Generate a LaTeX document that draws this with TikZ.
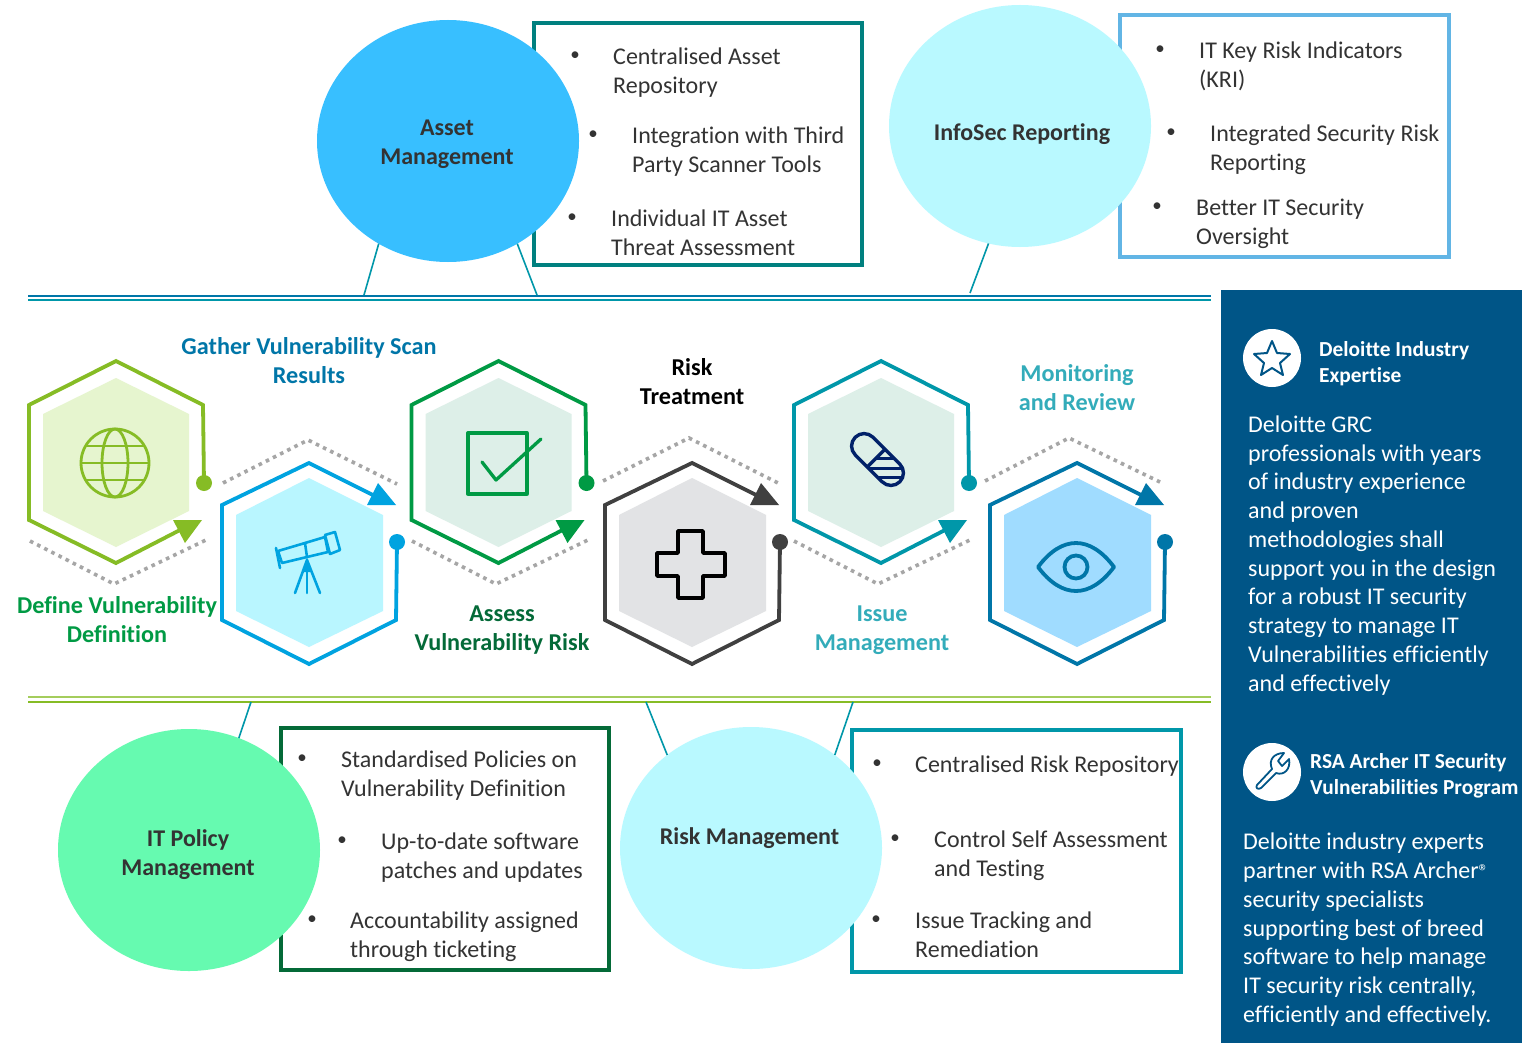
\documentclass[tikz,border=0pt]{standalone}
\usepackage{fontspec}
\setmainfont{Carlito}[Ligatures=NoCommon]
\usetikzlibrary{shapes.geometric}
\definecolor{panel}{HTML}{005587}
\definecolor{cA}{HTML}{86BC25}\definecolor{fA}{HTML}{E6F5CF}
\definecolor{cB}{HTML}{00A3E0}\definecolor{fB}{HTML}{B9F6FF}
\definecolor{cC}{HTML}{009A44}\definecolor{fC}{HTML}{DDEFE8}
\definecolor{cD}{HTML}{404040}\definecolor{fD}{HTML}{E2E3E5}
\definecolor{cE}{HTML}{0097A9}
\definecolor{cF}{HTML}{0076A8}\definecolor{fF}{HTML}{A0DCFF}
\definecolor{circA}{HTML}{38BFFF}\definecolor{circB}{HTML}{B9F9FF}\definecolor{circC}{HTML}{66FAB0}
\definecolor{boxA}{HTML}{00807F}\definecolor{boxB}{HTML}{62B5E5}\definecolor{boxC}{HTML}{046A38}
\definecolor{txt}{HTML}{333333}\definecolor{dots}{HTML}{A6A6A6}
\definecolor{navy}{HTML}{012169}
\tikzset{x=1pt,y=-1pt,
 blobshape/.style={ellipse,minimum width=262pt,minimum height=242pt,inner sep=0,outer sep=0},
 panelbox/.style={line width=3.5pt,minimum height=242pt,inner sep=0},
 blob/.style={font=\fontsize{24}{29}\selectfont\bfseries,text=txt,align=center,inner sep=0},
 item/.style={font=\fontsize{24}{29}\selectfont,text=txt,align=left,anchor=north west,inner sep=0,yshift=-5pt},
 bul/.style={font=\fontsize{19}{29}\selectfont,text=txt,inner sep=0},
 lab/.style={font=\fontsize{24.2}{29}\selectfont\bfseries,align=center,inner sep=0},
 side/.style={font=\fontsize{24}{28.75}\selectfont,text=white,align=left,anchor=north west,inner sep=0,yshift=-5pt},
 sideh/.style={font=\fontsize{21.4}{26}\selectfont\bfseries,text=white,align=left,anchor=north west,inner sep=0,yshift=-5pt},
 dotline/.style={draw=dots,line width=3.6pt,dash pattern=on 3.6pt off 4.4pt},
 conn/.style={draw=cE,line width=1.6pt},
 hexline/.style={line width=3.8pt,miter limit=10},
 rulea/.style={line width=1.7pt},
}
\begin{document}
\begin{tikzpicture}
\useasboundingbox (0,0) rectangle (1522,1043);
\fill[white] (0,0) rectangle (1522,1043);
\fill[panel] (1221,290) rectangle (1522,1043);

% rules
\draw[cF,rulea] (28,296)--(1211,296);
\draw[cE,rulea] (28,300)--(1211,300);
\draw[cA!75!white,rulea] (28,697)--(1211,697);
\draw[cA,rulea] (28,702)--(1211,702);

% boxes
\node[draw=boxA,panelbox,minimum width=328pt] (boxasset) at (698,144) {};
\node[draw=boxB,panelbox,minimum width=329pt] (boxinfo) at (1284.5,136) {};
\node[draw=boxC,panelbox,minimum width=328pt] (boxpol) at (445,849) {};
\node[draw=cE,panelbox,minimum width=329pt] (boxrisk) at (1016.5,851) {};

% ellipses
\node[blobshape,fill=circA] (asset) at (448,141) {};
\node[blobshape,fill=circB] (infosec) at (1020,126) {};
\node[blobshape,fill=circC] (policy) at (189,850) {};
\node[blobshape,fill=circB] (riskm) at (751,848) {};
\node[blob] (n1) at (447,144) {Asset\\Management};
\node[blob] (n2) at (1022,134) {InfoSec Reporting};
\node[blob] (n3) at (188,854.5) {IT Policy\\Management};
\node[blob] (n4) at (749.5,838.5) {Risk Management};

% connectors
\coordinate (t1) at (364,295);\coordinate (t2) at (537,295);\coordinate (t3) at (970,293);
\coordinate (b1) at (251,702);\coordinate (b2) at (646,702);\coordinate (b3) at (853,702);
\draw[conn] (asset.236.7)--(t1);\draw[conn] (asset.304)--(t2);\draw[conn] (infosec.255.3)--(t3);
\draw[conn] (policy.66.9)--(b1);\draw[conn] (riskm.132.7)--(b2);\draw[conn] (riskm.48.3)--(b3);

% box texts
\node[bul] (u1) at (575,56) {•};
\node[item] (i1) at (613,43) {Centralised Asset\\Repository};
\node[bul] (u2) at (593,135) {•};
\node[item] (i2) at (632,122) {Integration with Third\\Party Scanner Tools};
\node[bul] (u3) at (572,218) {•};
\node[item] (i3) at (611,205) {Individual IT Asset\\Threat Assessment};

\node[bul] (u4) at (1160,50) {•};
\node[item] (i4) at (1199,37) {IT Key Risk Indicators\\(KRI)};
\node[bul] (u5) at (1171,133) {•};
\node[item] (i5) at (1210,120) {Integrated Security Risk\\Reporting};
\node[bul] (u6) at (1157,207) {•};
\node[item] (i6) at (1196,194) {Better IT Security\\Oversight};

\node[bul] (u7) at (302,759) {•};
\node[item] (i7) at (341,746) {Standardised Policies on\\Vulnerability Definition};
\node[bul] (u8) at (342,841) {•};
\node[item] (i8) at (381,828) {Up-to-date software\\patches and updates};
\node[bul] (u9) at (312,920) {•};
\node[item] (i9) at (350,907) {Accountability assigned\\through ticketing};

\node[bul] (u10) at (877,764) {•};
\node[item] (i10) at (915,751) {Centralised Risk Repository};
\node[bul] (u11) at (895,839) {•};
\node[item] (i11) at (934,826) {Control Self Assessment\\and Testing};
\node[bul] (u12) at (876,920) {•};
\node[item] (i12) at (915,907) {Issue Tracking and\\Remediation};

% dotted chevrons
\draw[dotline] (30,541)--(114,584)--(206,540);
\draw[dotline] (223,483)--(308,440)--(397,484);
\draw[dotline] (412,541)--(496,584)--(588,540);
\draw[dotline] (603,481)--(689,438)--(778,483);
\draw[dotline] (794,541)--(878,584)--(970,540);
\draw[dotline] (985,481)--(1069,438)--(1160,482);

% hexagons with the arrow at the lower right
\foreach \dx/\c/\f in {116/cA/fA,498.5/cC/fC,881/cE/fC}{
 \begin{scope}[shift={(\dx,0)}]
 \fill[\f] (0,378)--(73,414)--(73,511)--(0,547)--(-73,511)--(-73,414)--cycle;
 \draw[\c,hexline] (88,483)--(87,405)--(0,361)--(-87,405)--(-87,520)--(0,563)--(66,529);
 \fill[\c] (88,483) circle (8);
 \fill[\c] (57,520)--(86,520)--(69,543)--cycle;
 \end{scope}}
% hexagons with the arrow at the upper right
\foreach \dx/\c/\f in {309/cB/fB,692/cD/fD,1077/cF/fF}{
 \begin{scope}[shift={(\dx,0)}]
 \fill[\f] (0,478)--(74,515)--(74,611)--(0,647)--(-73,611)--(-73,515)--cycle;
 \draw[\c,hexline] (88,542)--(87,620)--(0,664)--(-87,620)--(-87,505)--(0,463)--(68,497);
 \fill[\c] (88,542) circle (8);
 \fill[\c] (69,483)--(87,505)--(58,505)--cycle;
 \end{scope}}

% globe
\begin{scope}[shift={(115,463)},draw=cA,line width=2.8pt]
 \draw (0,0) circle (34);
 \draw (0,0) ellipse [x radius=13,y radius=34];
 \draw (-34,0)--(34,0);
 \draw (-29,-17)--(29,-17);
 \draw (-29,17)--(29,17);
\end{scope}
% telescope
\begin{scope}[draw=cB,line width=2.6pt,line join=round,line cap=round]
 \draw (276,548)--(280,568);
 \draw (278,551)--(305,543)--(307,557)--(282,563)--cycle;
 \draw (305,543)--(325,537)--(328,552)--(307,557);
 \draw (325,535)--(335,532)--(340,550)--(330,554)--cycle;
 \draw (307,560)--(295,593);
 \draw (307,560)--(307,593);
 \draw (307,560)--(320,593);
 \fill[cB] (307,557)--(311,572)--(303,572)--cycle;
\end{scope}
% checkbox
\begin{scope}[draw=cC,line width=3.3pt,line join=round,line cap=round]
 \draw (468,433) rectangle (527,494);
 \draw (482,462)--(496,480)--(541,439);
\end{scope}
% cross
\draw[black,line width=3.6pt,line join=round] (678,531)--(703,531)--(703,553)--(725,553)--(725,576)--(703,576)--(703,598)--(678,598)--(678,576)--(657,576)--(657,553)--(678,553)--cycle;
% pill
\begin{scope}[shift={(877.5,459.5)}]
 \begin{scope}
  \clip[rotate=-45,rounded corners=12.5pt] (-31.5,-12.5) rectangle (31.5,12.5);
  \clip[rotate=-45] (-2,-13) rectangle (32,13);
  \draw[navy,line width=3pt] (-30,-1)--(30,-1) (-30,9)--(30,9) (-30,18)--(30,18);
 \end{scope}
 \draw[navy,line width=3.4pt,rounded corners=12.5pt,rotate=-45] (-31.5,-12.5) rectangle (31.5,12.5);
 \draw[navy,line width=3.4pt,rotate=-45] (-2,-12.5)--(-2,12.5);
\end{scope}
% eye
\begin{scope}[shift={(1076,567)},draw=cF,line width=3.8pt]
 \draw[line join=round] (-38,0) .. controls (-14,-32) and (14,-32) .. (38,0) .. controls (14,32) and (-14,32) .. (-38,0) -- cycle;
 \draw (0,0) circle (11.5);
\end{scope}

% step labels
\node[lab,text=cF] (l1) at (309,361) {Gather Vulnerability Scan\\Results};
\node[lab,text=cC] (l2) at (117,619.5) {Define Vulnerability\\Definition};
\node[lab,text=black] (l3) at (692,382) {Risk\\Treatment};
\node[lab,text=boxC] (l4) at (502,630.5) {Assess\\Vulnerability Risk};
\node[lab,text={cE!80!white}] (l5) at (1077,388) {Monitoring\\and Review};
\node[lab,text={cE!80!white}] (l6) at (882,630) {Issue\\Management};

% side panel
\node[circle,fill=white,minimum size=58pt,inner sep=0] (sc1) at (1272,358) {};
\node[circle,fill=white,minimum size=58pt,inner sep=0] (sc2) at (1272,772) {};
\draw[panel,line width=2pt,line join=round] (1272,341)--(1277,353)--(1290,354)--(1280,363)--(1283,375)--(1272,368)--(1261,375)--(1264,363)--(1254,354)--(1267,353)--cycle;
\draw[panel,line width=1.8pt,line join=round] (1257,785) -- (1272,769) .. controls (1268,760) and (1274,753) .. (1284,753) -- (1278,761) -- (1282,766) -- (1289,759) .. controls (1291,769) and (1284,776) .. (1276,773) -- (1261,788) .. controls (1258,790) and (1255,788) .. (1257,785) -- cycle;
\node[sideh] (h1) at (1319,336) {Deloitte Industry\\Expertise};
\node[sideh] (h2) at (1310,748) {RSA Archer IT Security\\Vulnerabilities Program};
\node[side] (p1) at (1248,410.5) {Deloitte GRC\\professionals with years\\of industry experience\\and proven\\methodologies shall\\support you in the design\\for a robust IT security\\strategy to manage IT\\Vulnerabilities efficiently\\and effectively};
\node[side] (p2) at (1243,828) {Deloitte industry experts\\partner with RSA Archer{\fontsize{20}{20}\selectfont®}\\security specialists\\supporting best of breed\\software to help manage\\IT security risk centrally,\\efficiently and effectively.};
\end{tikzpicture}
\end{document}
